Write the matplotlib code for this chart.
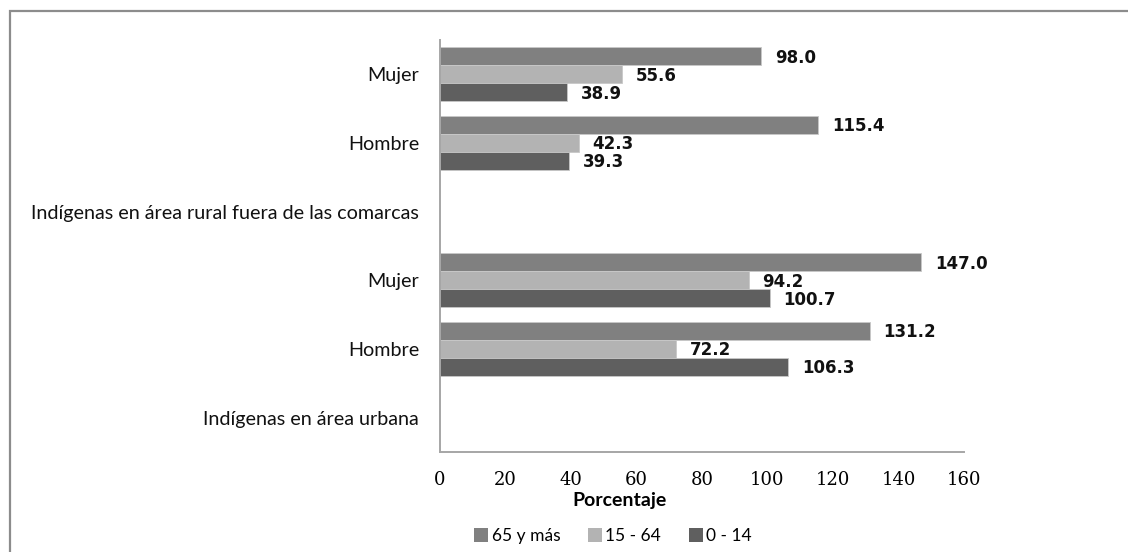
import matplotlib.pyplot as plt
import numpy as np
from matplotlib.patches import Rectangle

# categories from bottom to top, group headers have no bars
categories = [
    "Indígenas en área urbana",
    "Hombre",
    "Mujer",
    "Indígenas en área rural fuera de las comarcas",
    "Hombre",
    "Mujer",
]
series_names = ["65 y más", "15 - 64", "0 - 14"]
v_65 = [np.nan, 131.2, 147.0, np.nan, 115.4, 98.0]
v_15_64 = [np.nan, 72.2, 94.2, np.nan, 42.3, 55.6]
v_0_14 = [np.nan, 106.3, 100.7, np.nan, 39.3, 38.9]
xticks = [0, 20, 40, 60, 80, 100, 120, 140, 160]


def main():
    fig = plt.figure(figsize=(11.28, 5.52), dpi=100)
    ax = fig.add_axes([440 / 1128, 1 - 452 / 552, 524 / 1128, 412 / 552])

    # outer chart frame
    fig.patches.append(
        Rectangle(
            (10 / 1128, -0.1), 1.2, 1 - 11 / 552 + 0.1,
            transform=fig.transFigure, fill=False, edgecolor="#8c8c8c", lw=1.6,
        )
    )

    y = np.arange(len(categories))
    h = 0.262
    colors = ["#808080", "#b3b3b3", "#5f5f5f"]
    offsets = [h, 0, -h]
    for vals, name, col, off in zip([v_65, v_15_64, v_0_14], series_names, colors, offsets):
        vals = np.array(vals)
        bars = ax.barh(y + off, vals, height=h, color=col, edgecolor="#c8c8c8",
                       lw=0.6, label=name)
        for rect, v in zip(bars, vals):
            if np.isnan(v):
                continue
            ax.annotate(
                "{0:.1f}".format(v),
                xy=(v, rect.get_y() + rect.get_height() / 2),
                xytext=(10, -1), textcoords="offset points",
                ha="left", va="center", fontsize=12, fontweight="bold",
                color="#111111",
            )

    ax.set_xlim(0, 160)
    ax.set_ylim(-0.5, len(categories) - 0.5)
    ax.set_xticks(xticks)
    ax.set_xticklabels([str(t) for t in xticks], family="DejaVu Serif", fontsize=13)
    ax.set_yticks(y)
    ax.set_yticklabels(categories, family="Lato", fontsize=14.2, color="#111111")
    ax.tick_params(axis="both", length=0)
    ax.tick_params(axis="x", pad=14)
    ax.tick_params(axis="y", pad=15)

    for side in ["top", "right"]:
        ax.spines[side].set_visible(False)
    for side in ["left", "bottom"]:
        ax.spines[side].set_color("#a6a6a6")
        ax.spines[side].set_linewidth(1.4)

    ax.set_xlabel("Porcentaje", family="Lato", fontweight="bold", fontsize=14)
    ax.xaxis.set_label_coords(0.343, -0.098)

    handles, labels = ax.get_legend_handles_labels()
    leg = fig.legend(
        handles, labels, loc="center", bbox_to_anchor=(613 / 1128, 1 - 536 / 552),
        ncol=3, frameon=False, prop={"family": "Lato", "size": 12.5},
        handlelength=0.8, handleheight=0.8, handletextpad=0.2, columnspacing=1.6,
    )
    for p in leg.get_patches():
        p.set_edgecolor("none")

    fig.savefig("out.png", dpi=100)


if __name__ == "__main__":
    main()
